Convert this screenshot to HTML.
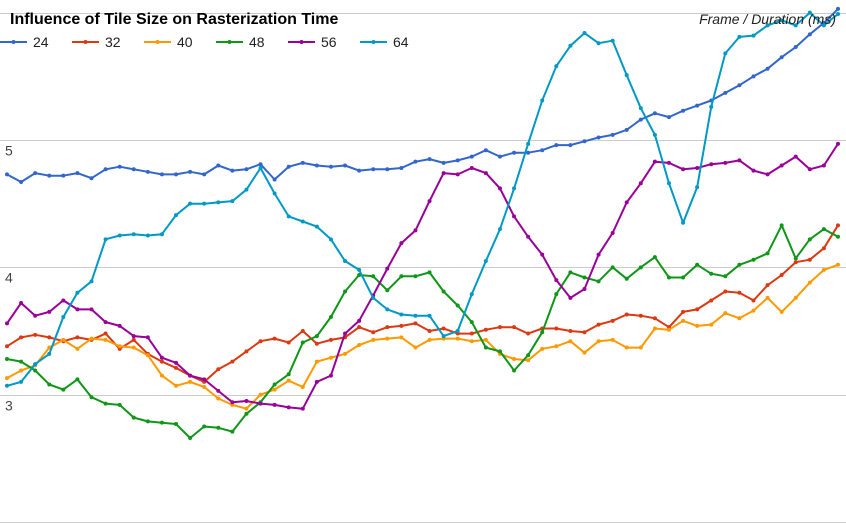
<!DOCTYPE html>
<html><head><meta charset="utf-8"><style>
html,body{margin:0;padding:0;background:#fff;}
svg{display:block;font-family:"Liberation Sans",sans-serif;}
</style></head><body>
<svg id="chart" width="846" height="523" viewBox="0 0 846 523">
<g id="grid"></g>
<g id="series"></g>
<g id="labels">
<text x="10" y="24" font-size="16" font-weight="bold" fill="#000">Influence of Tile Size on Rasterization Time</text>
<text x="836" y="24" font-size="14" font-style="italic" fill="#222" text-anchor="end">Frame / Duration (ms)</text>
</g>
<g id="legend"></g>
</svg>
<script>
const categories = Array.from({length:60},(_,i)=>i+1);
const seriesNames = ["24","32","40","48","56","64"];
const seriesColors = ["#3366cc","#dc3912","#ff9900","#109618","#990099","#0099c6"];
const s24 = [4.73,4.67,4.74,4.72,4.72,4.74,4.70,4.77,4.79,4.77,4.75,4.73,4.73,4.75,4.73,4.80,4.76,4.77,4.81,4.69,4.79,4.82,4.80,4.79,4.80,4.76,4.77,4.77,4.78,4.83,4.85,4.82,4.84,4.87,4.92,4.87,4.90,4.90,4.92,4.96,4.96,4.99,5.02,5.04,5.08,5.16,5.21,5.18,5.23,5.27,5.31,5.37,5.43,5.50,5.56,5.65,5.73,5.83,5.92,6.03];
const s32 = [3.38,3.45,3.47,3.45,3.42,3.45,3.43,3.48,3.36,3.43,3.32,3.26,3.21,3.15,3.10,3.20,3.26,3.34,3.42,3.44,3.41,3.50,3.40,3.43,3.45,3.53,3.49,3.53,3.54,3.56,3.50,3.52,3.48,3.48,3.51,3.53,3.53,3.48,3.52,3.52,3.50,3.49,3.55,3.58,3.63,3.62,3.60,3.53,3.65,3.67,3.74,3.81,3.80,3.74,3.86,3.94,4.04,4.06,4.15,4.33];
const s40 = [3.13,3.19,3.23,3.37,3.43,3.36,3.44,3.43,3.38,3.37,3.31,3.15,3.07,3.10,3.06,2.97,2.92,2.89,3.00,3.04,3.11,3.06,3.26,3.29,3.32,3.39,3.43,3.44,3.45,3.37,3.43,3.44,3.44,3.42,3.43,3.32,3.28,3.27,3.36,3.38,3.42,3.33,3.42,3.43,3.37,3.37,3.52,3.51,3.58,3.54,3.55,3.64,3.60,3.66,3.76,3.65,3.76,3.88,3.98,4.02];
const s48 = [3.28,3.26,3.19,3.08,3.04,3.12,2.98,2.93,2.92,2.82,2.79,2.78,2.77,2.66,2.75,2.74,2.71,2.85,2.94,3.08,3.16,3.41,3.46,3.61,3.81,3.94,3.93,3.82,3.93,3.93,3.96,3.81,3.70,3.57,3.37,3.34,3.19,3.31,3.49,3.79,3.96,3.92,3.89,4.00,3.91,4.00,4.08,3.92,3.92,4.02,3.95,3.93,4.02,4.06,4.11,4.33,4.07,4.22,4.30,4.24];
const s56 = [3.56,3.72,3.62,3.65,3.74,3.67,3.67,3.57,3.54,3.46,3.45,3.29,3.25,3.15,3.12,3.03,2.94,2.95,2.93,2.92,2.90,2.89,3.10,3.15,3.48,3.58,3.78,3.99,4.19,4.29,4.52,4.74,4.73,4.78,4.74,4.62,4.40,4.24,4.10,3.90,3.76,3.83,4.10,4.27,4.51,4.66,4.83,4.82,4.77,4.78,4.81,4.82,4.84,4.76,4.73,4.80,4.87,4.77,4.80,4.97];
const s64 = [3.07,3.10,3.24,3.32,3.61,3.80,3.89,4.22,4.25,4.26,4.25,4.26,4.41,4.50,4.50,4.51,4.52,4.61,4.78,4.58,4.40,4.36,4.32,4.22,4.05,3.98,3.76,3.67,3.63,3.62,3.62,3.46,3.50,3.79,4.05,4.30,4.62,4.97,5.31,5.58,5.74,5.84,5.76,5.78,5.51,5.25,5.04,4.66,4.35,4.63,5.26,5.68,5.81,5.82,5.90,5.94,5.90,6.00,5.90,5.99];
const yTicks = [2,3,4,5,6];
const yTickLabels = ["","3","4","5",""];

const NS="http://www.w3.org/2000/svg";
const X0=7, X1=838, YBASE=522, YPER=127.33;
function xScale(i){return X0+i*(X1-X0)/(categories.length-1);}
function yScale(v){return YBASE-(v-2)*YPER;}
function mk(tag,attrs,parent){const e=document.createElementNS(NS,tag);for(const k in attrs)e.setAttribute(k,attrs[k]);parent.appendChild(e);return e;}

const grid=document.getElementById('grid');
yTicks.forEach((t,k)=>{
  const y=Math.round(yScale(t))+0.5;
  const ln=mk('line',{x1:0,x2:846,y1:y,y2:y,stroke:'#cccccc','stroke-width':1},grid);
  
  
  if(yTickLabels[k]){
    const tx=mk('text',{x:5,y:y+15,'font-size':14,fill:'#444'},grid);
    tx.textContent=yTickLabels[k];
    
    
  }
});

const allSeries=[s24,s32,s40,s48,s56,s64];
const sg=document.getElementById('series');
allSeries.forEach((data,si)=>{
  const g=mk('g',{},sg);
  
  
  const pts=data.map((v,i)=>xScale(i).toFixed(1)+','+yScale(v).toFixed(1)).join(' ');
  const pl=mk('polyline',{points:pts,fill:'none',stroke:seriesColors[si],'stroke-width':2,'stroke-linejoin':'round'},g);
  
  
  data.forEach((v,i)=>{
    const c=mk('circle',{cx:xScale(i),cy:yScale(v),r:2,fill:seriesColors[si]},g);
    
    
  });
});

const lg=document.getElementById('legend');
seriesNames.forEach((n,i)=>{
  const bx=i*72;
  const g=mk('g',{},lg);
  
  
  mk('line',{x1:bx,x2:bx+27,y1:42,y2:42,stroke:seriesColors[i],'stroke-width':2},g);
  mk('circle',{cx:bx+13.5,cy:42,r:2,fill:seriesColors[i]},g);
  const t=mk('text',{x:bx+33,y:47,'font-size':14,fill:'#222'},g);
  t.textContent=n;
});
document.getElementById('chart').appendChild(document.getElementById('labels'));
</script>
</body></html>
